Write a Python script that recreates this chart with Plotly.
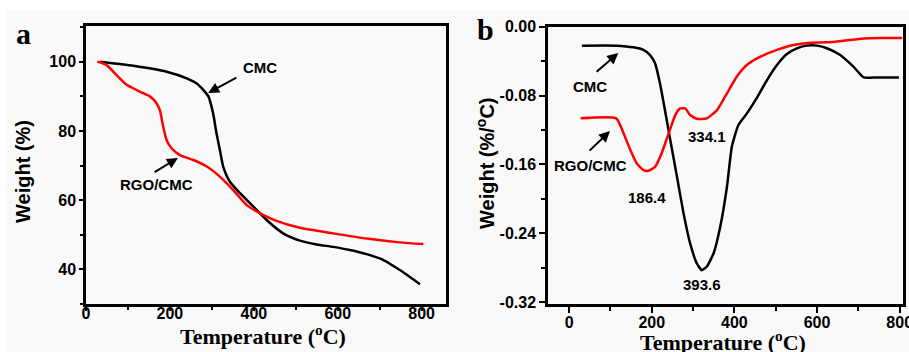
import plotly.graph_objects as go

# ---- Panel a: TGA ----
a_cmc_T = [33, 113, 192, 240, 264, 280, 292, 303, 311, 319, 327, 343, 367, 399, 431, 470, 510, 550, 589, 629, 669, 709, 748, 796]
a_cmc_W = [100, 98.8, 97.1, 95.2, 93.7, 91.8, 89.9, 85, 79.3, 74.5, 69.7, 65.3, 62, 58.1, 54.2, 50.4, 48.3, 47.2, 46.5, 45.6, 44.4, 42.7, 39.8, 35.7]
a_rgo_T = [27, 49, 73, 97, 129, 153, 168, 176, 184, 192, 204, 224, 256, 288, 319, 351, 383, 415, 454, 510, 589, 669, 748, 804]
a_rgo_W = [100, 99, 96.1, 93.3, 91.3, 89.9, 88, 86, 81.2, 77.4, 75, 73, 71.6, 69.7, 66.8, 62.9, 58.6, 56.2, 54, 52, 50.4, 48.9, 47.8, 47.3]

# ---- Panel b: DTG ----
b_cmc_T = [31, 115, 156, 180, 196, 208, 220, 232, 245, 261, 277, 293, 309, 321, 333, 350, 366, 382, 394, 410, 430, 454, 479, 503, 527, 551, 575, 600, 624, 656, 688, 713, 745, 798]
b_cmc_V = [-0.022, -0.022, -0.024, -0.027, -0.033, -0.0426, -0.066, -0.097, -0.132, -0.174, -0.217, -0.252, -0.275, -0.283, -0.279, -0.263, -0.232, -0.186, -0.139, -0.114, -0.101, -0.083, -0.062, -0.0446, -0.0318, -0.0252, -0.022, -0.022, -0.025, -0.033, -0.0465, -0.059, -0.059, -0.059]
b_rgo_T = [28, 114, 132, 148, 164, 180, 192, 208, 224, 241, 257, 269, 281, 293, 309, 333, 358, 382, 406, 430, 463, 503, 543, 584, 624, 664, 713, 753, 806]
b_rgo_V = [-0.1065, -0.1065, -0.124, -0.143, -0.159, -0.1666, -0.1674, -0.163, -0.147, -0.124, -0.1027, -0.095, -0.095, -0.1027, -0.107, -0.1065, -0.0969, -0.0775, -0.058, -0.0446, -0.0349, -0.027, -0.0213, -0.0186, -0.0182, -0.0163, -0.0136, -0.0132, -0.0132]

peak_labels = ["186.4", "334.1", "393.6"]
series_names = ["CMC", "RGO/CMC"]

fig = go.Figure()
lw = 2.5
fig.add_trace(go.Scatter(x=a_cmc_T, y=a_cmc_W, mode="lines", line=dict(color="black", width=lw, shape="spline", smoothing=0.6), xaxis="x", yaxis="y", name="CMC"))
fig.add_trace(go.Scatter(x=a_rgo_T, y=a_rgo_W, mode="lines", line=dict(color="#ff0000", width=lw, shape="spline", smoothing=0.6), xaxis="x", yaxis="y", name="RGO/CMC"))
fig.add_trace(go.Scatter(x=b_cmc_T, y=b_cmc_V, mode="lines", line=dict(color="black", width=lw, shape="spline", smoothing=0.5), xaxis="x2", yaxis="y2", name="CMC"))
fig.add_trace(go.Scatter(x=b_rgo_T, y=b_rgo_V, mode="lines", line=dict(color="#ff0000", width=lw, shape="spline", smoothing=0.5), xaxis="x2", yaxis="y2", name="RGO/CMC"))

SANS = "Liberation Sans, Arial, sans-serif"
SERIF = "Liberation Serif, Times New Roman, serif"
tickfont = dict(family=SANS, size=16, color="black", weight="bold")
BG = "#f9f9f9"

def axis_common(**kw):
    d = dict(showline=True, linecolor="black", linewidth=2.5, mirror=True, showgrid=False, zeroline=False,
             ticks="outside", tickcolor="black", tickwidth=2, tickfont=tickfont, automargin=False,
             ticklabeloverflow="allow")
    d.update(kw)
    return d

fig.update_layout(
    width=909, height=352, margin=dict(l=0, r=0, t=0, b=0),
    paper_bgcolor="white", plot_bgcolor=BG, showlegend=False,
    xaxis=axis_common(domain=[86/909, 446/909], range=[0, 858], dtick=200, tick0=0, ticklen=4, ticklabelstandoff=-11,
                      minor=dict(dtick=100, ticks="outside", ticklen=3, tickcolor="black", tickwidth=2), anchor="y"),
    yaxis=axis_common(domain=[1-304/352, 1-26/352], range=[30, 110.3], tickvals=[40, 60, 80, 100], ticklen=4,
                      minor=dict(dtick=10, ticks="outside", ticklen=3, tickcolor="black", tickwidth=2), anchor="x"),
    xaxis2=axis_common(domain=[548/909, 903/909], range=[-51, 808], dtick=200, tick0=0, ticklen=6, ticklabelstandoff=-4,
                       minor=dict(dtick=100, ticks="outside", ticklen=4, tickcolor="black", tickwidth=2), anchor="y2"),
    yaxis2=axis_common(domain=[1-304/352, 1-26.7/352], range=[-0.3223, 0.0], tickvals=[-0.32, -0.24, -0.16, -0.08, 0.0],
                       ticktext=["-0.32", "-0.24", "-0.16", "-0.08", "0.00"], ticklen=6,
                       minor=dict(dtick=0.04, ticks="outside", ticklen=4, tickcolor="black", tickwidth=2), anchor="x2"),
    shapes=[dict(type="rect", xref="paper", yref="paper", x0=7/909, x1=1, y0=0, y1=1-10/352,
                 fillcolor=BG, line=dict(width=0), layer="below")],
)

ann_font = dict(family=SANS, size=15, color="black", weight="bold")
C = dict(xanchor="center", yanchor="middle")
anns = []
# panel labels
anns.append(dict(xref="paper", yref="paper", x=23/909, y=1-33/352, text="<b>a</b>", showarrow=False,
                 font=dict(family=SERIF, size=30, color="black"), **C))
anns.append(dict(xref="paper", yref="paper", x=485/909, y=1-30/352, text="<b>b</b>", showarrow=False,
                 font=dict(family=SERIF, size=30, color="black"), **C))
# axis titles
title_font_sans = dict(family=SANS, size=20, color="black", weight="bold")
title_font_serif = dict(family=SERIF, size=22, color="black", weight="bold")
anns.append(dict(xref="paper", yref="paper", x=23/909, y=1-172/352, text="Weight (%)", textangle=-90, showarrow=False, font=title_font_sans, **C))
anns.append(dict(xref="paper", yref="paper", x=485/909, y=1-163/352, text="Weight (%/<sup>o</sup>C)", textangle=-90, showarrow=False, font=title_font_sans, **C))
anns.append(dict(xref="paper", yref="paper", x=263/909, y=1-335/352, text="Temperature (<sup>o</sup>C)", showarrow=False, font=title_font_serif, **C))
anns.append(dict(xref="paper", yref="paper", x=723/909, y=1-341/352, text="Temperature (<sup>o</sup>C)", showarrow=False, font=title_font_serif, **C))

# panel a labels and arrows
anns.append(dict(xref="x", yref="y", x=415, y=98.2, text=series_names[0], showarrow=False, font=ann_font, **C))
anns.append(dict(xref="x", yref="y", x=291, y=90.95, axref="x", ayref="y", ax=362, ay=95.6, text="",
                 showarrow=True, arrowhead=2, arrowsize=1.1, arrowwidth=2, arrowcolor="black"))
anns.append(dict(xref="x", yref="y", x=167, y=64.4, text=series_names[1], showarrow=False, font=ann_font, **C))
anns.append(dict(xref="x", yref="y", x=219, y=72.2, axref="x", ayref="y", ax=160, ay=67.8, text="",
                 showarrow=True, arrowhead=2, arrowsize=1.1, arrowwidth=2, arrowcolor="black"))

# panel b labels and arrows
anns.append(dict(xref="x2", yref="y2", x=51, y=-0.069, text=series_names[0], showarrow=False, font=ann_font, **C))
anns.append(dict(xref="x2", yref="y2", x=119, y=-0.0306, axref="x2", ayref="y2", ax=63, ay=-0.0538, text="",
                 showarrow=True, arrowhead=2, arrowsize=1.1, arrowwidth=2, arrowcolor="black"))
anns.append(dict(xref="x2", yref="y2", x=51, y=-0.161, text=series_names[1], showarrow=False, font=ann_font, **C))
anns.append(dict(xref="x2", yref="y2", x=99, y=-0.1213, axref="x2", ayref="y2", ax=46, ay=-0.1457, text="",
                 showarrow=True, arrowhead=2, arrowsize=1.1, arrowwidth=2, arrowcolor="black"))
anns.append(dict(xref="x2", yref="y2", x=189, y=-0.199, text=peak_labels[0], showarrow=False, font=ann_font, **C))
anns.append(dict(xref="x2", yref="y2", x=334, y=-0.128, text=peak_labels[1], showarrow=False, font=ann_font, **C))
anns.append(dict(xref="x2", yref="y2", x=322, y=-0.300, text=peak_labels[2], showarrow=False, font=ann_font, **C))

fig.update_layout(annotations=anns)
fig.write_html("out.html", config={"displayModeBar": False},
               post_script="document.body.style.margin='0';document.body.style.overflow='hidden';")
